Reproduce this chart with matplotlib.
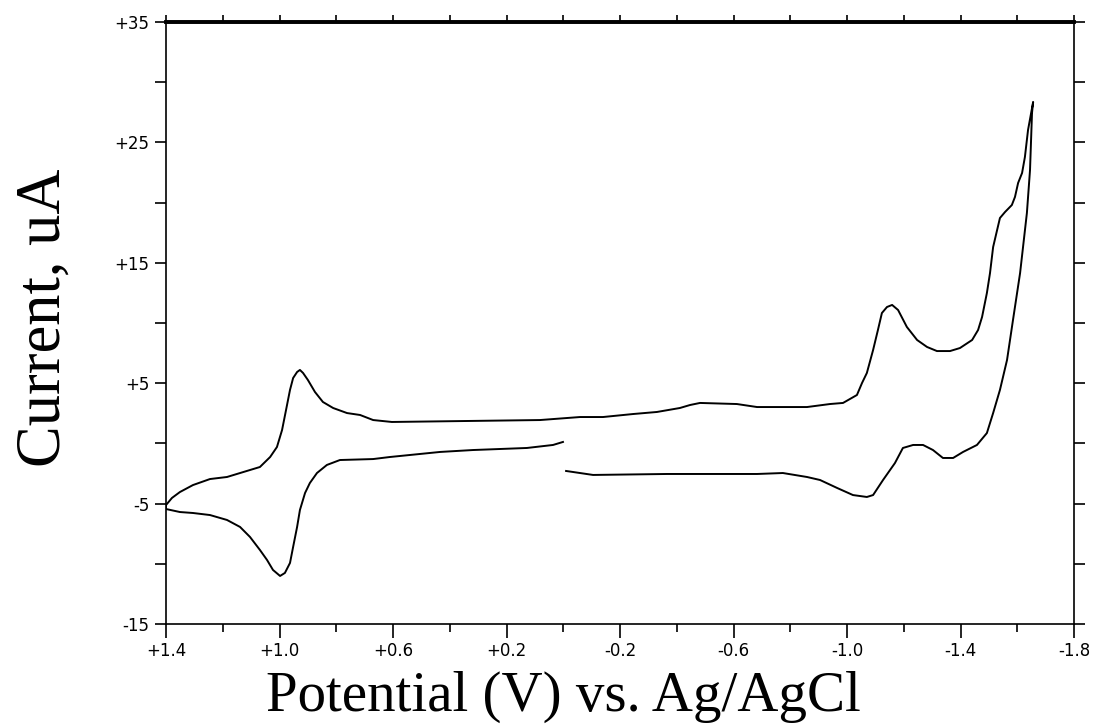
import numpy as np
import matplotlib.pyplot as plt
from matplotlib.ticker import FixedLocator, FuncFormatter

# scan 1: from 0 V going negative along the lower branch up to the switching point
v_fwd = [-0.01, -0.105, -0.366, -0.683, -0.774, -0.859, -0.905, -0.965, -1.021, -1.070,
         -1.092, -1.127, -1.169, -1.197, -1.233, -1.268, -1.303, -1.338, -1.374, -1.409,
         -1.458, -1.493, -1.515, -1.539, -1.564, -1.585, -1.610, -1.634, -1.645, -1.652, -1.656]
i_fwd = [-2.29, -2.62, -2.54, -2.54, -2.46, -2.79, -3.04, -3.70, -4.29, -4.45,
         -4.29, -3.04, -1.63, -0.38, -0.13, -0.13, -0.55, -1.21, -1.21, -0.71,
         -0.13, 0.86, 2.52, 4.44, 6.93, 10.25, 14.15, 19.14, 22.71, 27.44, 28.36]

# scan 2: back from -1.66 V to +1.4 V (upper branch)
v_back = [-1.638, -1.627, -1.617, -1.603, -1.592, -1.581, -1.557, -1.539, -1.529, -1.515,
          -1.504, -1.493, -1.476, -1.462, -1.441, -1.398, -1.363, -1.317, -1.282, -1.247,
          -1.211, -1.180, -1.159, -1.141, -1.123, -1.109, -1.092, -1.070, -1.053, -1.035,
          -0.986, -0.940, -0.859, -0.683, -0.612, -0.482, -0.447, -0.411, -0.330, -0.246,
          -0.140, -0.059, 0.082, 0.604, 0.670, 0.716, 0.762, 0.811, 0.847, 0.875,
          0.900, 0.917, 0.928, 0.938, 0.952, 0.963, 0.977, 0.991, 1.009, 1.033,
          1.069, 1.104, 1.185, 1.245, 1.305, 1.351, 1.379, 1.40]
i_back = [26.03, 23.79, 22.46, 21.63, 20.47, 19.80, 19.22, 18.72, 17.72, 16.31,
          14.15, 12.49, 10.50, 9.42, 8.59, 7.92, 7.67, 7.67, 8.01, 8.59,
          9.67, 11.08, 11.50, 11.33, 10.83, 9.42, 7.76, 5.85, 5.02, 4.02,
          3.36, 3.27, 3.02, 3.02, 3.27, 3.36, 3.19, 2.94, 2.61, 2.44,
          2.19, 2.19, 1.94, 1.78, 1.94, 2.36, 2.52, 2.94, 3.44, 4.27,
          5.27, 5.85, 6.10, 5.93, 5.43, 4.44, 2.77, 1.11, -0.30, -1.13,
          -1.96, -2.21, -2.79, -2.96, -3.46, -4.04, -4.53, -5.12]

# scan 3: from +1.4 V back toward 0 V (lower left branch)
v_end = [1.40, 1.351, 1.305, 1.245, 1.185, 1.139, 1.104, 1.069, 1.044, 1.023,
         0.998, 0.981, 0.963, 0.952, 0.938, 0.928, 0.910, 0.893, 0.868, 0.833,
         0.787, 0.670, 0.611, 0.434, 0.318, 0.128, 0.036, 0.001]
i_end = [-5.45, -5.70, -5.78, -5.95, -6.36, -6.94, -7.77, -8.85, -9.68, -10.51,
         -11.01, -10.76, -9.93, -8.60, -6.94, -5.53, -4.12, -3.29, -2.46, -1.79,
         -1.38, -1.30, -1.13, -0.71, -0.55, -0.38, -0.13, 0.12]

x_major = [1.4, 1.0, 0.6, 0.2, -0.2, -0.6, -1.0, -1.4, -1.8]
x_minor = [1.2, 0.8, 0.4, 0.0, -0.4, -0.8, -1.2, -1.6]
y_major = [-15, -5, 5, 15, 25, 35]
y_minor = [-10, 0, 10, 20, 30]

V = np.concatenate([v_fwd, v_back, v_end])
I = np.concatenate([i_fwd, i_back, i_end])

fig = plt.figure(figsize=(11.05, 7.26), dpi=100)
ax = fig.add_axes([166/1105, 1-624/726, 908/1105, 602/726])

ax.plot(V, I, color='black', lw=1.4)

ax.set_xlim(1.4, -1.8)
ax.set_ylim(-15, 35)

ax.xaxis.set_major_locator(FixedLocator(x_major))
ax.xaxis.set_minor_locator(FixedLocator(x_minor))
ax.xaxis.set_major_formatter(FuncFormatter(lambda x, p: ('+%.1f' % x) if x > 0 else ('%.1f' % x)))
ax.yaxis.set_major_locator(FixedLocator(y_major))
ax.yaxis.set_minor_locator(FixedLocator(y_minor))
ax.yaxis.set_major_formatter(FuncFormatter(lambda y, p: ('+%d' % y) if y > 0 else ('%d' % y)))

ax.tick_params(axis='x', which='major', direction='out', length=10, width=1.2,
               labelsize=12, pad=3, top=False)
ax.tick_params(axis='x', which='minor', direction='out', length=5.5, width=1.2, top=False)
ax.tick_params(axis='y', which='both', direction='out', length=8, width=1.2,
               labelsize=12, pad=4, right=True)

# ticks on top spine, every 0.2 V
sec = ax.secondary_xaxis('top')
sec.set_xticks(sorted(x_major + x_minor))
sec.tick_params(direction='out', length=5, width=1.2, labeltop=False)
sec.spines['top'].set_linewidth(2.6)

for side in ['left', 'right', 'bottom']:
    ax.spines[side].set_linewidth(1.2)
ax.spines['top'].set_linewidth(2.6)

fig.text(45/1105, 1-318/726, 'Current, uA', rotation=90, ha='center', va='center',
         fontsize=45, family='Liberation Serif')
fig.text(563/1105, 1-697/726, 'Potential (V) vs. Ag/AgCl', ha='center', va='center',
         fontsize=41, family='Liberation Serif')

plt.savefig('out.png', dpi=100)
